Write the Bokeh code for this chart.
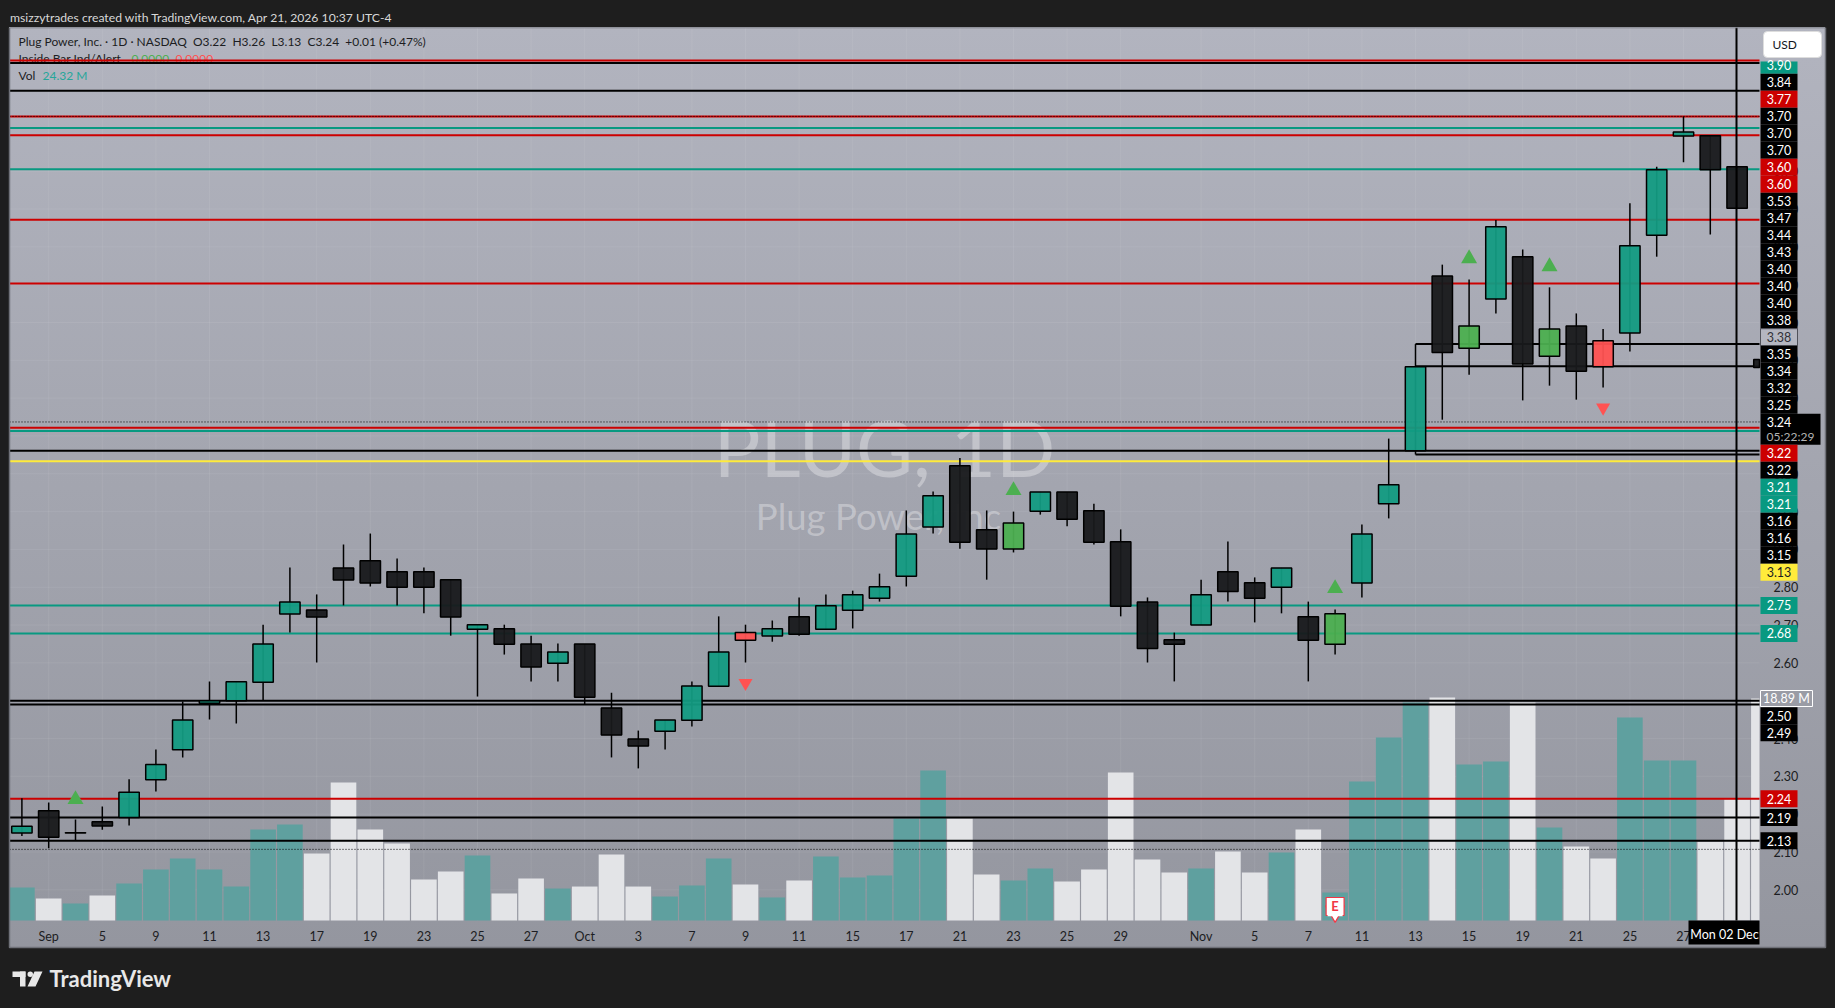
from bokeh.plotting import figure
from bokeh.embed import file_html
from bokeh.resources import INLINE
from bokeh.core.properties import value
from bokeh.models import (Range1d, FixedTicker, BoxAnnotation, Label,
                          PolyAnnotation, Title, NumeralTickFormatter)

# ---------- data ----------
opens = [2.150,2.209,2.150,2.180,2.191,2.291,2.370,2.493,2.500,2.549,2.729,2.740,2.851,2.870,2.841,2.841,2.820,2.689,2.690,2.650,
         2.599,2.650,2.481,2.399,2.419,2.448,2.538,2.680,2.671,2.722,2.689,2.739,2.771,2.829,2.959,3.121,2.952,2.901,3.001,3.052,
         3.002,2.920,2.761,2.661,2.700,2.841,2.812,2.800,2.722,2.649,2.811,3.021,3.161,3.623,3.432,3.562,3.674,3.411,3.491,3.452,
         3.472,3.731,3.993,3.994,3.912,3.402]
highs = [2.242,2.231,2.186,2.220,2.292,2.371,2.498,2.551,2.550,2.701,2.852,2.781,2.913,2.942,2.876,2.852,2.820,2.701,2.701,2.672,
         2.651,2.650,2.521,2.421,2.449,2.551,2.723,2.701,2.712,2.773,2.781,2.791,2.836,3.003,3.053,3.142,3.003,3.000,3.052,3.052,
         3.021,2.953,2.773,2.680,2.820,2.921,2.826,2.851,2.762,2.741,2.966,3.193,3.443,3.653,3.614,3.771,3.693,3.593,3.524,3.483,
         3.815,3.912,4.045,3.994,3.912,3.402]
lows  = [2.142,2.110,2.132,2.159,2.170,2.260,2.350,2.450,2.440,2.502,2.680,2.601,2.752,2.802,2.752,2.731,2.672,2.511,2.622,2.551,
         2.551,2.490,2.350,2.321,2.371,2.432,2.538,2.601,2.656,2.672,2.689,2.691,2.762,2.802,2.942,2.902,2.820,2.892,2.992,2.961,
         2.913,2.723,2.601,2.551,2.700,2.762,2.707,2.731,2.551,2.622,2.773,2.982,3.151,3.243,3.362,3.524,3.294,3.333,3.296,3.328,
         3.423,3.674,3.924,3.733,3.802,3.381]
closes= [2.168,2.139,2.151,2.169,2.258,2.331,2.449,2.500,2.550,2.650,2.761,2.721,2.819,2.811,2.800,2.800,2.721,2.701,2.649,2.589,
         2.629,2.509,2.409,2.380,2.449,2.539,2.629,2.660,2.690,2.676,2.751,2.780,2.801,2.941,3.042,2.919,2.901,2.970,3.052,2.980,
         2.919,2.750,2.638,2.649,2.780,2.789,2.771,2.851,2.660,2.730,2.941,3.071,3.383,3.421,3.491,3.753,3.390,3.483,3.371,3.383,
         3.703,3.904,4.004,3.904,3.802,3.381]
volumes = [2.81,1.87,1.45,2.13,3.15,4.34,5.28,4.34,2.89,7.74,8.17,5.70,11.74,7.74,6.55,3.49,4.17,5.53,2.30,3.57,
           2.72,2.89,5.62,2.89,2.04,2.98,5.28,3.06,1.96,3.40,5.45,3.66,3.83,8.68,12.77,8.68,3.91,3.40,4.43,3.32,
           4.34,12.60,5.19,4.09,4.43,5.87,4.09,5.79,7.74,2.38,11.83,15.57,18.55,18.98,13.28,13.53,18.55,7.91,6.30,5.28,
           17.28,13.62,13.62,6.72,10.30,18.89]
inside_up_bars = [37,49,54,57]
inside_down_bars = [27,59]
buy_signal_bars = [2,37,49,54,57]
buy_signal_prices = [2.239,3.056,2.797,3.669,3.648]
sell_signal_bars = [27,59]
sell_signal_prices = [2.547,3.275]
earnings_bar = 49

level_prices = [4.186,4.193,4.113,4.045,4.045,4.014,3.995,3.905,3.772,3.603,3.443,3.384,3.237,3.222,3.213,3.161,3.151,3.133,
                2.752,2.678,2.500,2.490,2.241,2.191,2.130,2.107]
level_colors = ["#000000","#cc0000","#000000","#cc0000","#000000","#089981","#cc0000","#089981","#cc0000","#cc0000","#000000","#000000",
                "#000000","#cc0000","#089981","#000000","#000000","#ffeb3b",
                "#089981","#089981","#000000","#000000","#cc0000","#000000","#000000","#000000"]
level_start_bars = [-1,-1,-1,-1,-1,-1,-1,-1,-1,-1,52,52,-1,-1,-1,-1,52,-1,-1,-1,-1,-1,-1,-1,-1,-1]
level_dotted = [4,12,25]

stack_texts = ["3.90","3.84","3.77","3.70","3.70","3.70","3.60","3.60","3.53","3.47","3.44","3.43","3.40","3.40","3.40",
               "3.38","3.38","3.35","3.34","3.32","3.25","3.24","3.22","3.22","3.21","3.21","3.16","3.16","3.15","3.13"]
stack_fills = ["#089981","#000000","#cc0000","#000000","#000000","#000000","#cc0000","#cc0000","#000000","#000000","#000000","#000000",
               "#000000","#000000","#000000","#000000","#b4b6c0","#000000","#000000","#000000","#000000","#000000","#cc0000","#000000",
               "#089981","#089981","#000000","#000000","#000000","#ffeb3b"]
low_texts = ["2.75","2.68","2.50","2.49","2.24","2.19","2.13"]
low_fills = ["#089981","#089981","#000000","#000000","#cc0000","#000000","#000000"]
low_levels = [2.752,2.678,2.460,2.415,2.241,2.191,2.130]

time_tick_bars = [1,3,5,7,9,11,13,15,17,19,21,23,25,27,29,31,33,35,37,39,41,44,46,48,50,52,54,56,58,60,62]
time_tick_labels = ["Sep","5","9","11","13","17","19","23","25","27","Oct","3","7","9","11","15","17","21","23","25","29",
                    "Nov","5","7","11","13","15","19","21","25","27"]
price_ticks = [2.0,2.1,2.2,2.3,2.4,2.5,2.6,2.7,2.8,2.9,3.0,3.1,3.2,3.3,3.4,3.5,3.6,3.7,3.8,3.9]

TITLE = "msizzytrades created with TradingView.com, Apr 21, 2026 10:37 UTC-4"
LEGEND = "Plug Power, Inc. · 1D · NASDAQ\u00a0\u00a0O3.22\u00a0\u00a0H3.26\u00a0\u00a0L3.13\u00a0\u00a0C3.24\u00a0\u00a0+0.01 (+0.47%)"
FONT = "Lato"

# ---------- layout helpers (page px -> axis units) ----------
OY = 2                  # page position of the figure
PANE_R, PANE_B, PANE_T = 1759, 920, 27
X0, XS = 21.4, 26.8
Y2, YS = 889.3, 378.2
def sx(px): return (px - X0) / XS
def sy(py): return 2 + (Y2 - py) / YS

TEAL, BLACK, GREEN, RED = "#139b82", "#18191b", "#4caf50", "#ff5252"
VOL_UP, VOL_DOWN = "#5fa09f", "#e3e4e7"
VOL_PER_PX = 1 / 11.75

p = figure(width=1835, height=1006, output_backend="svg", toolbar_location=None,
           x_range=Range1d(sx(0), sx(1835)), y_range=Range1d(sy(1008), sy(PANE_T)),
           min_border_left=0, min_border_right=0, min_border_top=25, min_border_bottom=0,
           y_axis_location="right", background_fill_alpha=0, border_fill_alpha=0, outline_line_color=None)
p.title = Title(text=TITLE, text_color="#d8d8d8", text_font=FONT, text_font_size="12.2px",
                text_font_style="normal", offset=9.5, standoff=5)
p.extra_y_ranges["vol"] = Range1d((PANE_B - 1008) * VOL_PER_PX, (PANE_B - PANE_T) * VOL_PER_PX)

# axes, held at the pane's edges
xa = p.xaxis[0]
xa.ticker = FixedTicker(ticks=time_tick_bars)
xa.major_label_overrides = dict(zip(time_tick_bars, time_tick_labels))
xa.fixed_location = sy(PANE_B)
ya = p.yaxis[0]
ya.ticker = FixedTicker(ticks=price_ticks)
ya.formatter = NumeralTickFormatter(format="0.00")
ya.fixed_location = sx(PANE_R)
for a in (xa, ya):
    a.axis_line_color = None
    a.major_tick_line_color = None
    a.minor_tick_line_color = None
    a.major_label_text_color = "#1c1d22"
    a.major_label_text_font = FONT
    a.major_label_text_font_size = "12.5px"
xa.major_label_standoff = 2
ya.major_label_standoff = 8
p.xgrid.visible = False
p.ygrid.visible = False

# faint grid, limited to the pane
XL, XR = sx(9), sx(PANE_R)
p.segment(x0=time_tick_bars, x1=time_tick_bars, y0=[sy(PANE_B)] * len(time_tick_bars), y1=[sy(PANE_T)] * len(time_tick_bars),
          line_color="#ffffff", line_alpha=0.07, line_width=1)
p.segment(x0=[XL] * len(price_ticks), x1=[XR] * len(price_ticks), y0=price_ticks, y1=price_ticks,
          line_color="#ffffff", line_alpha=0.07, line_width=1)

bars = list(range(len(opens)))
ups = [c >= o for o, c in zip(opens, closes)]
body_colors = [TEAL if u else BLACK for u in ups]
for i in inside_up_bars: body_colors[i] = GREEN
for i in inside_down_bars: body_colors[i] = RED

# watermark
p.text(x=[sx(884)], y=[sy(446)], text=["PLUG, 1D"], text_font=value(FONT), text_font_size="78px",
       text_color="#ffffff", text_alpha=0.33, text_align="center", text_baseline="middle")
p.text(x=[sx(878)], y=[sy(515)], text=["Plug Power, Inc"], text_font=value(FONT), text_font_size="36.5px",
       text_color="#ffffff", text_alpha=0.33, text_align="center", text_baseline="middle")

# volume (cut at the pane's right edge)
p.quad(left=[b - 0.478 for b in bars], right=[min(b + 0.478, XR) for b in bars], top=volumes, bottom=[0] * len(bars),
       y_range_name="vol", fill_color=[VOL_UP if u else VOL_DOWN for u in ups], line_color=None)

# legend row that the top levels run through
p.text(x=[sx(18), sx(131), sx(175)], y=[sy(58)] * 3, text=["Inside Bar Ind/Alert", "0.0000", "0.0000"],
       text_font=value(FONT), text_font_size="12px", text_color=["#1c1d22", GREEN, RED], text_baseline="middle")

# levels
solid = [i for i in range(len(level_prices)) if i not in level_dotted]
p.segment(x0=[max(level_start_bars[i], XL) for i in solid], x1=[XR] * len(solid),
          y0=[level_prices[i] for i in solid], y1=[level_prices[i] for i in solid],
          line_color=[level_colors[i] for i in solid], line_width=2)
p.segment(x0=[max(level_start_bars[i], XL) for i in level_dotted], x1=[XR] * len(level_dotted),
          y0=[level_prices[i] for i in level_dotted], y1=[level_prices[i] for i in level_dotted],
          line_color="#000000", line_width=1, line_dash="1 2")

# candles (the last one is cut by the pane's right edge)
seen = [b for b in bars if b <= XR]
p.segment(x0=seen, x1=seen, y0=[lows[b] for b in seen], y1=[highs[b] for b in seen], line_color="#000000", line_width=1.5)
p.quad(left=[b - 0.38 for b in bars], right=[min(b + 0.38, XR) for b in bars],
       top=[max(o, c) for o, c in zip(opens, closes)], bottom=[min(o, c) for o, c in zip(opens, closes)],
       fill_color=body_colors, fill_alpha=0.95, line_color="#000000", line_width=1.5)

# signals
p.scatter(x=buy_signal_bars, y=buy_signal_prices, marker="triangle", size=16, fill_color=GREEN, line_color=None)
p.scatter(x=sell_signal_bars, y=sell_signal_prices, marker="inverted_triangle", size=14, fill_color=RED, line_color=None)

# earnings flag
p.scatter(x=[earnings_bar], y=[0.77], marker="inverted_triangle", size=19, y_range_name="vol",
          fill_color="#ffffff", line_color="#f23645", line_width=1.2)
p.scatter(x=[earnings_bar], y=[1.19], marker="square", size=18, y_range_name="vol",
          fill_color="#ffffff", line_color="#f23645", line_width=1.2)
p.scatter(x=[earnings_bar], y=[1.0], marker="square", size=15, y_range_name="vol",
          fill_color="#ffffff", line_color=None)
p.text(x=[earnings_bar], y=[1.2], text=["E"], y_range_name="vol", text_font=value(FONT), text_font_style="bold",
       text_font_size="13px", text_color="#f23645", text_align="center", text_baseline="middle")

# crosshair
p.segment(x0=[sx(1736)], x1=[sx(1736)], y0=[sy(PANE_B)], y1=[sy(PANE_T)], line_color="#000000", line_width=2)

def box(l, r, t, b, fill, line=None, radius=0, lw=1, alpha=1):
    p.add_layout(BoxAnnotation(left=l, right=r, top=t - OY, bottom=b - OY,
                               left_units="canvas", right_units="canvas", top_units="canvas", bottom_units="canvas",
                               fill_color=fill, fill_alpha=alpha,
                               line_color=line, line_width=lw, line_alpha=1 if line else 0, border_radius=radius,
                               level="annotation"))
def label(x, y, text, color, size="12px", align="left", style="normal", font=FONT):
    p.add_layout(Label(x=x, y=y - OY, x_units="canvas", y_units="canvas", text=text, text_color=color,
                       text_font=font, text_font_size=size,
                       text_align=align, text_baseline="middle", text_font_style=style, level="annotation"))

# pane legend
label(18, 41, LEGEND, "#1c1d22")
label(18, 75, "Vol", "#1c1d22")
label(42, 75, "24.32 M", "#26a69a")

# panel border
box(9, 1825, 27, 947, None, line="#6f7178", lw=1.5, alpha=0)

# price-scale labels
BH = 17
y_cursor = 64.7
for txt, fill in zip(stack_texts, stack_fills):
    if txt == "3.24" and fill == "#000000":
        box(1760, 1820, y_cursor - 8.5, y_cursor + 22.5, "#000000")
        label(1778.5, y_cursor, txt, "#ffffff", "12.5px", align="center")
        label(1790, y_cursor + 14.5, "05:22:29", "#b2b2b2", align="center")
        y_cursor += BH + 14
        continue
    top = max(y_cursor - BH / 2, 61)
    if fill == "#b4b6c0":
        box(1760, 1797, top, y_cursor + BH / 2, fill, line="#50525a")
        label(1778.5, y_cursor, txt, "#303138", "12.5px", align="center")
    else:
        box(1760, 1797, top, y_cursor + BH / 2, fill)
        label(1778.5, y_cursor, txt, "#1c1d22" if fill == "#ffeb3b" else "#ffffff", "12.5px", align="center")
    y_cursor += BH

for txt, fill, lvl in zip(low_texts, low_fills, low_levels):
    yy = Y2 - (lvl - 2) * YS
    box(1760, 1797, yy - BH / 2, yy + BH / 2, fill)
    label(1778.5, yy, txt, "#ffffff", "12.5px", align="center")

box(1760, 1812, 690, 706, "#9a9ca5", line="#ffffff", lw=1)
label(1786, 698, "18.89 M", "#ffffff", "12.5px", align="center")

box(1763, 1821, 31, 57, "#ffffff", line="#dddddd", radius=4)
label(1772, 44, "USD", "#131722")

# crosshair time label
box(1688, 1759, 920, 944, "#000000")
label(1724, 934, "Mon 02 Dec", "#ffffff", "12.5px", align="center")

# footer logo
box(12, 25, 971, 976.5, "#e8e8e8")
box(19.5, 25, 971, 986, "#e8e8e8")
p.add_layout(PolyAnnotation(xs=[34, 42, 35, 27], ys=[971 - OY, 971 - OY, 986 - OY, 986 - OY],
                            xs_units="canvas", ys_units="canvas", fill_color="#e8e8e8", fill_alpha=1, line_alpha=0,
                            level="annotation"))
box(27, 32.5, 971, 976.5, "#e8e8e8", radius=3)
label(49, 978, "TradingView", "#e8e8e8", "22px", style="bold")

html = file_html(p, INLINE)
css = ("<style>html{overflow:hidden;background:linear-gradient(#b2b4bf,#94969f) no-repeat 9px 27px / 1816px 920px,#1e1e1e}"
       "body{margin:2px 0 0 0!important;overflow:hidden}</style>")
html = html.replace("</head>", css + "</head>", 1)
open("out.html", "w").write(html)
